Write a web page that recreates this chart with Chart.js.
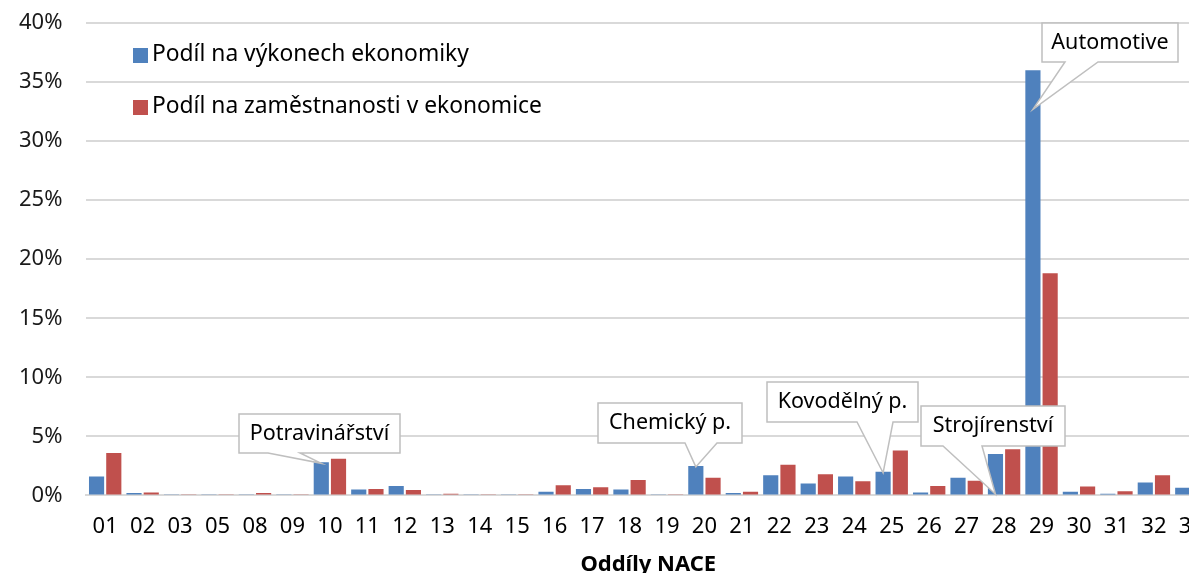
<!DOCTYPE html>
<html>
<head>
<meta charset="utf-8">
<script src="https://cdn.jsdelivr.net/npm/chart.js@4"></script>
<style>
  body { margin: 0; overflow: hidden; background: #fff; }
  #wrap { width: 1222px; height: 578px; position: relative; }
</style>
</head>
<body>
<div id="wrap"><canvas id="naceChart"></canvas></div>
<script>
// --- Data ---
const categories = ["01", "02", "03", "05", "08", "09", "10", "11", "12", "13", "14", "15", "16", "17", "18",
  "19", "20", "21", "22", "23", "24", "25", "26", "27", "28", "29", "30", "31", "32", "33"];
const podilVykony = [1.6, 0.2, 0.05, 0.05, 0.1, 0.05, 2.8, 0.5, 0.8, 0.1, 0.05, 0.05, 0.3, 0.55, 0.5,
  0.05, 2.5, 0.2, 1.7, 1.0, 1.6, 2.0, 0.25, 1.5, 3.5, 36.0, 0.3, 0.15, 1.1, 0.65];
const podilZamestnanost = [3.6, 0.25, 0.05, 0.05, 0.2, 0.05, 3.1, 0.55, 0.45, 0.15, 0.1, 0.1, 0.85, 0.7, 1.3,
  0.05, 1.5, 0.3, 2.6, 1.8, 1.2, 3.8, 0.8, 1.25, 3.9, 18.8, 0.75, 0.35, 1.7, 0.5];
const seriesLabels = ["Podíl na výkonech ekonomiky", "Podíl na zaměstnanosti v ekonomice"];
const yTicks = [0, 5, 10, 15, 20, 25, 30, 35, 40];
const calloutTexts = ["Potravinářství", "Chemický p.", "Kovodělný p.", "Strojírenství", "Automotive"];
const calloutCategories = ["10", "20", "25", "28", "29"];

const FONT = "'Noto Sans', sans-serif";
const BLUE = "#4f81bd";
const RED = "#c0504d";

// --- Callout layout (box in px, wedge base offsets from box left, tip as fraction down the bar) ---
const calloutLayout = [
  {box: [239, 414, 161, 39], base: [29, 61], tipFrac: 0.0},
  {box: [598, 403, 144, 40], base: [87, 119], tipFrac: 0.0},
  {box: [767, 382, 151, 40], base: [90, 126], tipFrac: 0.0},
  {box: [921, 406, 144, 40], base: [22, 61], tipFrac: 0.97},
  {box: [1042, 23, 136, 39], base: [23, 56], tipFrac: 0.09}
];

// --- Plugins ---
const legendInside = {
  id: "legendInside",
  afterDraw(chart) {
    const ctx = chart.ctx;
    ctx.save();
    ctx.font = "22.8px " + FONT;
    ctx.textBaseline = "middle";
    chart.data.datasets.forEach((ds, i) => {
      let y = 55 + i * 52;
      ctx.fillStyle = ds.backgroundColor;
      ctx.fillRect(133, y - 7, 15, 15);
      ctx.fillStyle = "#000";
      ctx.fillText(ds.label, 152, y);
    });
    ctx.restore();
  }
};

const callouts = {
  id: "callouts",
  afterDraw(chart) {
    const ctx = chart.ctx;
    const bars = chart.getDatasetMeta(0).data;
    ctx.save();
    calloutTexts.forEach((text, i) => {
      const lay = calloutLayout[i];
      const bar = bars[categories.indexOf(calloutCategories[i])];
      const [bx, by, bw, bh] = lay.box;
      const tipX = bar.x;
      const tipY = bar.y + (bar.base - bar.y) * lay.tipFrac + 1;
      ctx.beginPath();
      ctx.moveTo(bx, by);
      ctx.lineTo(bx + bw, by);
      ctx.lineTo(bx + bw, by + bh);
      ctx.lineTo(bx + lay.base[1], by + bh);
      ctx.lineTo(tipX, tipY);
      ctx.lineTo(bx + lay.base[0], by + bh);
      ctx.lineTo(bx, by + bh);
      ctx.closePath();
      ctx.fillStyle = "#fff";
      ctx.fill();
      ctx.strokeStyle = "#bfbfbf";
      ctx.lineWidth = 1.5;
      ctx.stroke();
      ctx.fillStyle = "#000";
      ctx.font = "21.5px " + FONT;
      ctx.textAlign = "center";
      ctx.textBaseline = "middle";
      ctx.fillText(text, bx + bw / 2, by + bh / 2);
    });
    ctx.restore();
  }
};

// --- Chart ---
new Chart(document.getElementById("naceChart"), {
  type: "bar",
  data: {
    labels: categories,
    datasets: [
      {label: seriesLabels[0], data: podilVykony, backgroundColor: BLUE},
      {label: seriesLabels[1], data: podilZamestnanost, backgroundColor: RED}
    ]
  },
  options: {
    responsive: true,
    maintainAspectRatio: false,
    animation: false,
    categoryPercentage: 0.92,
    barPercentage: 0.88,
    layout: {padding: {left: -5, top: 23, right: 4, bottom: 7}},
    plugins: {
      legend: {display: false},
      tooltip: {enabled: false}
    },
    scales: {
      x: {
        grid: {display: false, drawTicks: false},
        border: {color: "#d9d9d9", width: 2},
        ticks: {color: "#000", font: {family: FONT, size: 22}, padding: 18, maxRotation: 0, autoSkip: false},
        title: {display: true, text: "Oddíly NACE", color: "#000",
          font: {family: FONT, size: 22, weight: "bold", lineHeight: 0.6}, padding: 0}
      },
      y: {
        min: 0,
        max: 40,
        afterBuildTicks(axis) { axis.ticks = yTicks.map(v => ({value: v})); },
        afterFit(axis) { axis.paddingTop = 0; },
        grid: {color: "#d9d9d9", lineWidth: 2, drawTicks: false},
        border: {display: false},
        ticks: {color: "#1a1a1a", font: {family: FONT, size: 22}, padding: 24, callback: v => v + "%"}
      }
    }
  },
  plugins: [legendInside, callouts]
});
</script>
</body>
</html>
